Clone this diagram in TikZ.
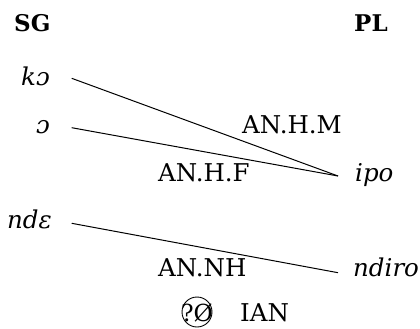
\documentclass[tikz,border=0pt]{standalone}
\usepackage{fontspec}
\setmainfont{DejaVu Serif}
\begin{document}
\begin{tikzpicture}[x=1pt,y=-1pt,
  word/.style={font=\fontsize{24.5}{28}\selectfont\itshape, inner sep=0pt},
  gloss/.style={font=\fontsize{24.5}{28}\selectfont, inner sep=0pt, anchor=base west},
  head/.style={font=\fontsize{23}{26}\selectfont\bfseries, inner sep=0pt, anchor=base west},
  link/.style={line width=1pt}]
\useasboundingbox (0,0) rectangle (420,329);

% column headings
\node[head] (sg) at (14,31.7) {SG};
\node[head] (pl) at (354,31.7) {PL};

% singular forms
\node[word, anchor=base east] (ko)  at (50,85)    {kɔ};
\node[word, anchor=base east] (o)   at (50,133.3) {ɔ};
\node[word, anchor=base east] (nde) at (52,228)   {ndɛ};

% plural forms
\node[word, anchor=base west] (ipo)   at (355,181.7) {ipo};
\node[word, anchor=base west] (ndiro) at (353,276.7) {ndiro};

% class labels
\node[gloss] (hm) at (242,133)   {AN.H.M};
\node[gloss] (hf) at (158,181)   {AN.H.F};
\node[gloss] (nh) at (158,276.7) {AN.NH};
\node[gloss, anchor=base, font=\fontsize{23.5}{26}\selectfont] (q) at (197,321) {?Ø};
\node[gloss] (ian) at (240,321) {IAN};
\draw[line width=0.9pt] ([yshift=9pt]q.base) circle[radius=15pt];

% pairings
\draw[link] ([shift={(21.7pt,6.7pt)}]ko.base east) -- ([shift={(-17pt,5.7pt)}]ipo.base west);
\draw[link] ([shift={(21.7pt,5.6pt)}]o.base east)  -- ([shift={(-17pt,5.7pt)}]ipo.base west);
\draw[link] ([shift={(19.7pt,4.7pt)}]nde.base east) -- ([shift={(-15pt,4pt)}]ndiro.base west);
\end{tikzpicture}
\end{document}
